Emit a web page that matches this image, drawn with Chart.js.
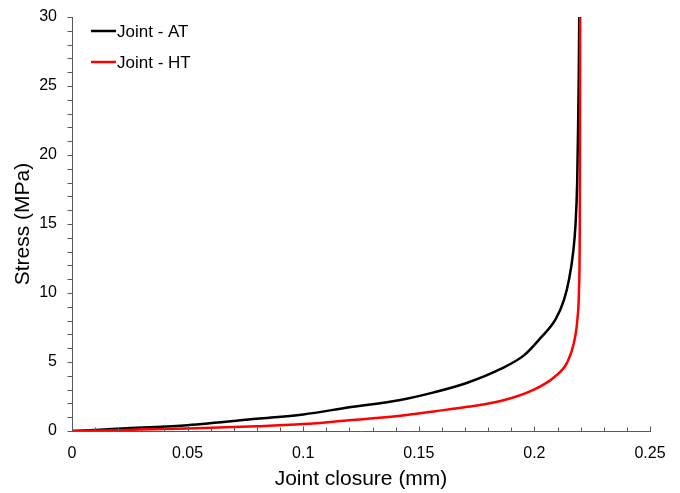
<!DOCTYPE html>
<html>
<head>
<meta charset="utf-8">
<script src="https://cdn.jsdelivr.net/npm/chart.js@4/dist/chart.umd.min.js"></script>
<style>
html,body{margin:0;padding:0;background:#fff;}
#wrap{width:680px;height:493px;position:relative;}
</style>
</head>
<body>
<div id="wrap"><canvas id="c" width="680" height="493"></canvas></div>
<script>
// Data
const atClosure = [0, 0.01, 0.0235, 0.05, 0.08, 0.1, 0.12, 0.142, 0.1565, 0.171, 0.1854, 0.1956, 0.2027, 0.2092, 0.2128, 0.215, 0.2168, 0.2178, 0.2185, 0.2189, 0.2192, 0.2194];
const atStress  = [0, 0.07, 0.2, 0.42, 0.88, 1.2, 1.72, 2.25, 2.8, 3.5, 4.5, 5.5, 6.75, 8.1, 9.5, 11, 13, 15, 18, 22, 26, 30];
const htClosure = [0, 0.0235, 0.05, 0.08, 0.1, 0.12, 0.142, 0.1565, 0.171, 0.1854, 0.1998, 0.2084, 0.2142, 0.2171, 0.2186, 0.2193, 0.2196, 0.2197, 0.2198];
const htStress  = [0, 0.08, 0.18, 0.34, 0.5, 0.78, 1.1, 1.42, 1.75, 2.17, 3.0, 3.88, 4.97, 6.4, 8.1, 10.3, 14, 20, 30];
const seriesLabels = ['Joint - AT', 'Joint - HT'];
const xTickLabels = ['0', '0.05', '0.1', '0.15', '0.2', '0.25'];
const yTickLabels = ['0', '5', '10', '15', '20', '25', '30'];

const axisColor = '#595959';
const fontFam = '"Liberation Sans", Arial, sans-serif';

function pts(xs, ys){ return xs.map((x,i)=>({x:x, y:ys[i]})); }

const tickPlugin = {
  id: 'tickPlugin',
  afterDraw(chart){
    const ctx = chart.ctx;
    const xs = chart.scales.x, ys = chart.scales.y;
    ctx.save();
    ctx.strokeStyle = axisColor;
    ctx.lineWidth = 1;
    ctx.beginPath();
    const yb = Math.round(ys.bottom) + 0.5;
    for (let i = 0; i <= 25; i++){
      const v = i * 0.01;
      const px = Math.round(xs.getPixelForValue(v)) + 0.5;
      const len = (i % 5 === 0) ? 5 : 4;
      ctx.moveTo(px, yb);
      ctx.lineTo(px, yb - len);
    }
    const xl = Math.round(xs.left) + 0.5;
    for (let i = 0; i <= 30; i++){
      const py = Math.round(ys.getPixelForValue(i)) + 0.5;
      ctx.moveTo(xl, py);
      ctx.lineTo(xl - 5, py);
    }
    ctx.stroke();
    // legend
    const items = chart.data.datasets;
    ctx.font = '17px ' + fontFam;
    ctx.textBaseline = 'middle';
    ctx.fillStyle = '#000';
    const lx = 91, ly0 = 31, dy = 31;
    items.forEach((d, i) => {
      const y = ly0 + i * dy;
      ctx.strokeStyle = d.borderColor;
      ctx.lineWidth = 2.5;
      ctx.beginPath();
      ctx.moveTo(lx, y);
      ctx.lineTo(lx + 25, y);
      ctx.stroke();
      ctx.fillText(d.label, lx + 26, y + 1);
    });
    ctx.restore();
  }
};

new Chart(document.getElementById('c'), {
  type: 'scatter',
  data: {
    datasets: [
      { label: seriesLabels[0], data: pts(atClosure, atStress), showLine: true, borderColor: '#000000', borderWidth: 2.5, pointRadius: 0, cubicInterpolationMode: 'monotone', order: 1 },
      { label: seriesLabels[1], data: pts(htClosure, htStress), showLine: true, borderColor: '#ff0000', borderWidth: 2.5, pointRadius: 0, cubicInterpolationMode: 'monotone', order: 0 }
    ]
  },
  options: {
    responsive: false,
    animation: false,
    layout: { padding: { left: 0, right: 30, top: 17, bottom: 0 } },
    plugins: { legend: { display: false }, tooltip: { enabled: false } },
    scales: {
      x: {
        type: 'linear', min: 0, max: 0.25,
        afterFit(s){ s.height = 62; s.paddingTop = 0; s.paddingBottom = 0; },
        grid: { display: false, drawTicks: false },
        border: { display: true, color: axisColor, width: 1 },
        ticks: { stepSize: 0.05, padding: 13, color: '#000', font: { family: fontFam, size: 16 }, maxRotation: 0,
          callback: (v) => { const i = Math.round(v / 0.05); return xTickLabels[i] !== undefined ? xTickLabels[i] : ''; } },
        title: { display: true, text: 'Joint closure (mm)', color: '#000', font: { family: fontFam, size: 21 }, padding: { top: 0, bottom: 1.5 } }
      },
      y: {
        type: 'linear', min: 0, max: 30,
        afterFit(s){ s.width = 72; s.paddingTop = 0; s.paddingBottom = 0; },
        grid: { display: false, drawTicks: false },
        border: { display: true, color: axisColor, width: 1 },
        ticks: { stepSize: 5, padding: 15, color: '#000', font: { family: fontFam, size: 16 },
          callback: (v) => { const i = Math.round(v / 5); return yTickLabels[i] !== undefined ? yTickLabels[i] : ''; } },
        title: { display: true, text: 'Stress (MPa)', color: '#000', font: { family: fontFam, size: 21 }, padding: { top: 10.4, bottom: 0 } }
      }
    }
  },
  plugins: [tickPlugin]
});
</script>
</body>
</html>
